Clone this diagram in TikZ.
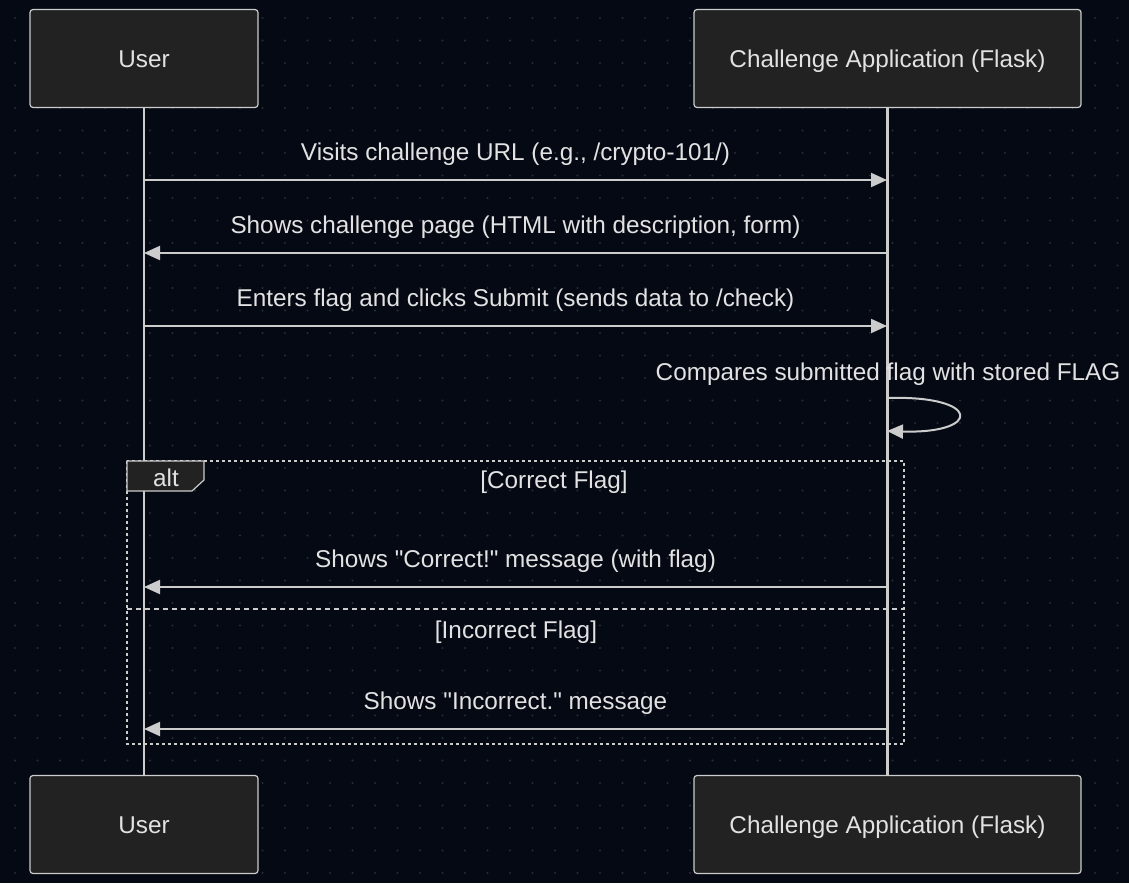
\documentclass[tikz,border=0pt]{standalone}
\usepackage{fontspec}
\setmainfont{Liberation Sans}[Ligatures=TeXOff]
\usetikzlibrary{arrows.meta,positioning}
\definecolor{bg}{RGB}{5,9,20}
\definecolor{griddot}{RGB}{40,44,54}
\definecolor{boxfill}{RGB}{34,34,34}
\definecolor{edgegray}{RGB}{204,204,204}
\definecolor{txt}{RGB}{226,226,226}
\tikzset{
    x=1pt, y=-1pt, semithick,
    actor/.style ={rectangle, rounded corners=3pt, draw=edgegray, line width=1.2pt, fill=boxfill,
                   text=txt, font=\fontsize{24.3}{29}\selectfont, text height=17pt, text depth=0pt,
                   minimum height=98pt},
    lifeline/.style = {draw=edgegray, line width=2.4pt},
    msg/.style = {draw=edgegray, line width=2pt, -{Triangle[length=16pt,width=14pt]}},
    lbl/.style = {text=txt, font=\fontsize{24.3}{29}\selectfont, inner sep=0pt, text height=17pt, text depth=0pt},
    altframe/.style = {draw=edgegray, line width=2.7pt, dash pattern=on 3pt off 3pt},
    guardsep/.style = {draw=edgegray, line width=2.7pt, dash pattern=on 4.5pt off 4.5pt},
    tab/.style = {draw=edgegray, line width=1.2pt, fill=boxfill}
}

\begin{document}
\begin{tikzpicture}
    \useasboundingbox (0,0) rectangle (1129,883);
    \fill[bg] (0,0) rectangle (1129,883);
    \foreach \i in {0,...,49}
        \foreach \j in {0,...,38}
            \fill[griddot] (15+\i*22.5, 18+\j*22.5) circle (1.1pt);

    \node (userTop) at (144,58.5) [actor, minimum width=228pt] {User};
    \node (appTop) at (887.5,58.5) [actor, minimum width=387pt] {Challenge Application (Flask)};
    \node (userBot) at (144,824.5) [actor, minimum width=228pt] {User};
    \node (appBot) at (887.5,824.5) [actor, minimum width=387pt] {Challenge Application (Flask)};

    \path[lifeline] (userTop) edge (userBot);
    \path[lifeline] (appTop) edge (appBot);

    % message points on the lifelines
    \coordinate (u1) at (144,180); \coordinate (a1) at (887,180);
    \coordinate (u2) at (144,253); \coordinate (a2) at (887,253);
    \coordinate (u3) at (144,326); \coordinate (a3) at (887,326);
    \coordinate (s1) at (887,398); \coordinate (s2) at (887,431);
    \coordinate (u4) at (144,587); \coordinate (a4) at (887,587);
    \coordinate (u5) at (144,729); \coordinate (a5) at (887,729);

    \path (u1) edge[msg] node[lbl, midway, yshift=28pt] {Visits challenge URL (e.g., /crypto-101/)} (a1);
    \path (a2) edge[msg] node[lbl, midway, yshift=28pt] {Shows challenge page (HTML with description, form)} (u2);
    \path (u3) edge[msg] node[lbl, midway, yshift=28pt] {Enters flag and clicks Submit (sends data to /check)} (a3);

    \node (selfnote) at (888,371.5) [lbl] {Compares submitted flag with stored FLAG};
    \draw[msg] (s1) .. controls (982,395) and (982,434) .. (s2);

    % alt frame
    \draw[altframe] (127,461) rectangle (904,744);
    \draw[tab] (127,461) -- (204,461) -- (204,480) -- (192,491) -- (127,491) -- cycle;
    \node (altlbl) at (166,478) [lbl] {alt};
    \node (guard1) at (554,480) [lbl] {[Correct Flag]};
    \draw[guardsep] (127,609) -- (904,609);
    \node (guard2) at (516,630) [lbl] {[Incorrect Flag]};

    \path (a4) edge[msg] node[lbl, midway, yshift=28pt] {Shows "Correct!" message (with flag)} (u4);
    \path (a5) edge[msg] node[lbl, midway, yshift=28pt] {Shows "Incorrect." message} (u5);
\end{tikzpicture}
\end{document}
